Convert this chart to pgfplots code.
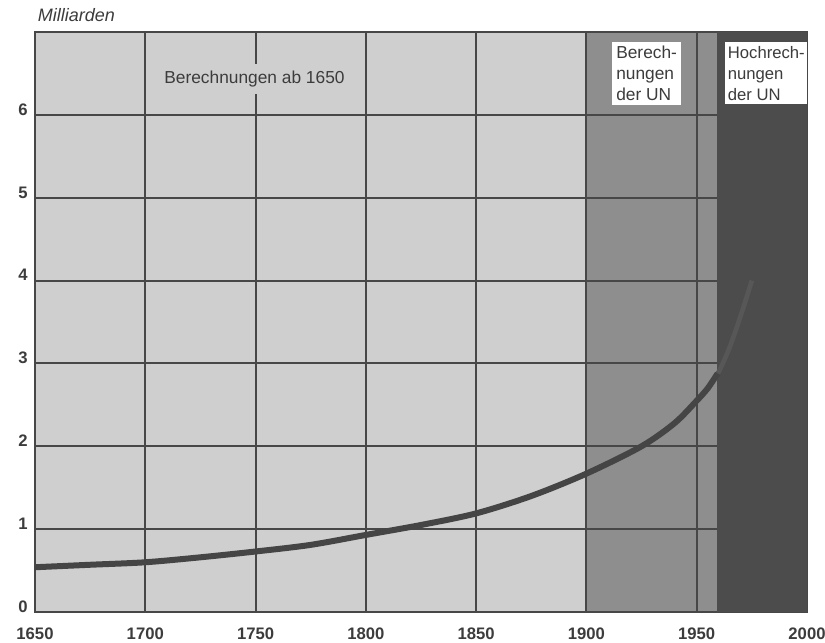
\documentclass[border=0pt]{standalone}
\usepackage{pgfplots}
\pgfplotsset{compat=1.18}
\usepackage{fontspec}
\setmainfont{Liberation Sans}

\definecolor{lightreg}{HTML}{CFCFCF}
\definecolor{midreg}{HTML}{8E8E8E}
\definecolor{darkreg}{HTML}{4C4C4C}
\definecolor{gridc}{HTML}{474747}
\definecolor{curvec}{HTML}{454545}
\definecolor{curvedark}{HTML}{575757}
\definecolor{labelc}{HTML}{3C3C3C}

\begin{document}
\begin{tikzpicture}
\begin{axis}[
  set layers,
  scale only axis,
  width=579pt, height=435pt,
  xmin=1650, xmax=2000, ymin=0, ymax=7,
  xtick={1650,1700,...,2000},
  ytick={0,1,...,6},
  /pgf/number format/.cd, 1000 sep={}, assume math mode=true, /pgfplots/.cd,
  major tick length=0pt,
  grid=major,
  major grid style={line width=1.5pt, gridc},
  axis line style={line width=2pt, gridc},
  ticklabel style={font=\fontsize{12.5}{12.5}\selectfont\bfseries, text=labelc},
  xticklabel style={yshift=-8pt},
  yticklabel style={yshift=4pt, xshift=-2pt},
  clip=false,
]
% Zeitraeume
\addplot[on layer=axis background, fill=lightreg, draw=none] coordinates {(1650,7) (1900,7)} \closedcycle;
\addplot[on layer=axis background, fill=midreg, draw=none] coordinates {(1900,7) (1959,7)} \closedcycle;
\addplot[fill=darkreg, draw=none] coordinates {(1959,7) (2000,7)} \closedcycle;

% Weltbevoelkerung (Hochrechnung kaum sichtbar)
\addplot[curvedark, line width=3.5pt, smooth] coordinates {
(1900,1.67) (1925,2.00) (1940,2.28) (1950,2.55) (1955,2.70) (1960,2.90)
(1965,3.20) (1970,3.58) (1975,4.00)
};
\addplot[curvec, line width=4.5pt, smooth] coordinates {
(1650,0.54) (1675,0.57) (1700,0.60) (1725,0.66) (1750,0.73) (1775,0.81)
(1800,0.93) (1825,1.05) (1850,1.19) (1875,1.40) (1900,1.67) (1925,2.00)
(1940,2.28) (1950,2.55) (1955,2.70) (1959.5,2.88)
};

\node[fill=lightreg, inner xsep=1pt, inner ysep=5pt,
  font=\fontsize{13}{13}\selectfont, text=labelc]
  at (axis cs:1749.5,6.43) {Berechnungen ab 1650};
\node[fill=white, anchor=north west, align=left, inner xsep=3pt, inner ysep=3pt,
  font=\fontsize{13}{15.75}\selectfont, text=labelc]
  at (axis cs:1911.6,6.88) {Berech-\\nungen\\der UN};
\node[fill=white, anchor=north west, align=left, inner xsep=2pt, inner ysep=3pt,
  font=\fontsize{12.5}{15.75}\selectfont, text=labelc]
  at (axis cs:1962.8,6.88) {Hochrech-\\nungen\\der UN};
\node[anchor=base west, inner sep=0pt, xshift=2pt, yshift=8pt,
  font=\itshape\fontsize{13.5}{13.5}\selectfont, text=labelc]
  at (rel axis cs:0,1) {Milliarden};
\end{axis}
\pgfresetboundingbox
\path[use as bounding box]
  ([shift={(-26.25pt,-23.25pt)}]current axis.south west)
  rectangle ([shift={(13.5pt,24pt)}]current axis.north east);
\end{tikzpicture}
\end{document}
